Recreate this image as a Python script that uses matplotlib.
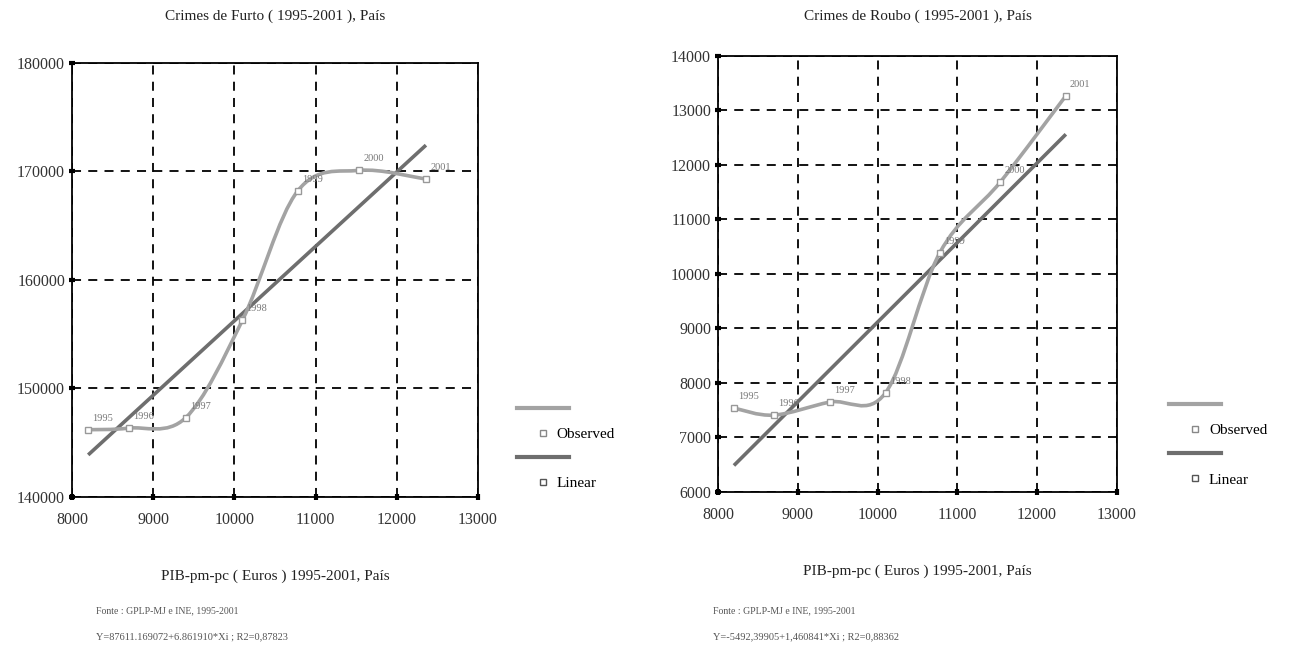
import matplotlib
matplotlib.use("Agg")
import matplotlib.pyplot as plt
from matplotlib.path import Path
from matplotlib.patches import PathPatch
from matplotlib.lines import Line2D

plt.rcParams['font.family'] = ['Liberation Serif', 'DejaVu Serif']

# data
years = ['1995', '1996', '1997', '1998', '1999', '2000', '2001']
pib = [8200, 8700, 9400, 10100, 10780, 11540, 12360]
furto = [146200, 146350, 147300, 156300, 168200, 170100, 169300]
roubo = [7540, 7410, 7650, 7820, 10390, 11690, 13270]

furto_fit = (87611.169072, 6.861910)
roubo_fit = (-5492.39905, 1.460841)

charts = [
    dict(title='Crimes de Furto ( 1995-2001 ), País', y=furto, fit=furto_fit,
         ylim=(140000, 180000), yticks=[140000, 150000, 160000, 170000, 180000],
         eq='Y=87611.169072+6.861910*Xi ; R2=0,87823',
         pos=[0.0557, 0.2447, 0.3142, 0.6596], leg=(0.400, 0.388), tx=0.0743,
         tpad=31),
    dict(title='Crimes de Roubo ( 1995-2001 ), País', y=roubo, fit=roubo_fit,
         ylim=(6000, 14000), yticks=list(range(6000, 14001, 1000)),
         eq='Y=-5492,39905+1,460841*Xi ; R2=0,88362',
         pos=[0.5557, 0.2523, 0.3088, 0.6626], leg=(0.905, 0.394), tx=0.552,
         tpad=26),
]

obs_col = '#a3a3a3'
lin_col = '#6e6e6e'


def smooth_path(xs, ys):
    # excel style smoothed line: catmull-rom segments as cubic beziers
    pts = list(zip(xs, ys))
    n = len(pts)
    verts = [pts[0]]
    codes = [Path.MOVETO]
    for i in range(n - 1):
        p0 = pts[max(i - 1, 0)]
        p1 = pts[i]
        p2 = pts[i + 1]
        p3 = pts[min(i + 2, n - 1)]
        c1 = (p1[0] + (p2[0] - p0[0]) / 6, p1[1] + (p2[1] - p0[1]) / 6)
        c2 = (p2[0] - (p3[0] - p1[0]) / 6, p2[1] - (p3[1] - p1[1]) / 6)
        verts += [c1, c2, p2]
        codes += [Path.CURVE4] * 3
    return Path(verts, codes)


fig = plt.figure(figsize=(12.92, 6.58), dpi=100)

for c in charts:
    ax = fig.add_axes(c['pos'])
    ax.set_xlim(8000, 13000)
    ax.set_ylim(*c['ylim'])
    ax.set_xticks([8000, 9000, 10000, 11000, 12000, 13000])
    ax.set_yticks(c['yticks'])
    ax.grid(True, color='black', linestyle=(0, (5, 4)), linewidth=1.3)
    ax.set_axisbelow(True)
    for s in ax.spines.values():
        s.set_color('black')
        s.set_linewidth(1.3)
    ax.tick_params(axis='both', direction='inout', length=4, width=3,
                   labelsize=11.5, colors='black')
    ax.tick_params(axis='x', pad=9)
    ax.tick_params(axis='y', pad=3)
    for lab in ax.get_xticklabels() + ax.get_yticklabels():
        lab.set_color('#333333')

    # linear fit
    a, b = c['fit']
    ax.plot([pib[0], pib[-1]], [a + b * pib[0], a + b * pib[-1]],
            color=lin_col, lw=2.6, solid_capstyle='butt', zorder=3)

    # observed, smoothed
    ax.add_patch(PathPatch(smooth_path(pib, c['y']), facecolor='none',
                           edgecolor=obs_col, lw=2.6, zorder=4))
    ax.plot(pib, c['y'], ls='none', marker='s', ms=5, mfc='white',
            mec='#999999', mew=1, zorder=5)
    for yr, xv, yv in zip(years, pib, c['y']):
        ax.annotate(yr, (xv, yv), xytext=(3, 5), textcoords='offset points',
                    fontsize=7.5, color='#777777', ha='left', va='bottom', zorder=6)

    ax.set_title(c['title'], fontsize=11, pad=c['tpad'], color='#222222')
    ax.set_xlabel('PIB-pm-pc ( Euros ) 1995-2001, País', fontsize=11,
                  labelpad=30, color='#222222')

    fig.text(c['tx'], 0.068, 'Fonte : GPLP-MJ e INE, 1995-2001', fontsize=7,
             color='#555555')
    fig.text(c['tx'], 0.029, c['eq'], fontsize=7.5, color='#555555')

    handles = [
        Line2D([], [], color=obs_col, lw=3),
        Line2D([], [], ls='none', marker='s', ms=5, mfc='white', mec='#888888'),
        Line2D([], [], color=lin_col, lw=3),
        Line2D([], [], ls='none', marker='s', ms=5, mfc='white', mec='#555555'),
    ]
    fig.legend(handles, ['', 'Observed', '', 'Linear'], loc='upper left',
               bbox_to_anchor=c['leg'], frameon=False, fontsize=11,
               handlelength=3.4, handletextpad=-0.8, labelspacing=0.72,
               borderaxespad=0, borderpad=0)

fig.savefig('out.png', dpi=100, facecolor='white')
